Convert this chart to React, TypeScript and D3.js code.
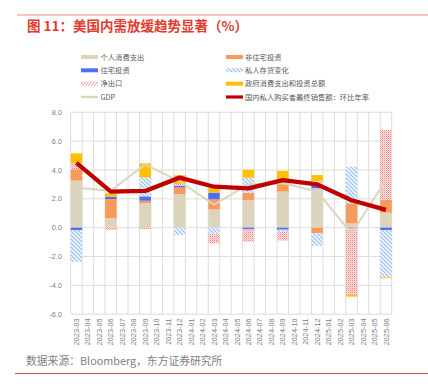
import React from "react";
import * as d3 from "d3";

const months = [
  "2023-03", "2023-04", "2023-05", "2023-06", "2023-07", "2023-08", "2023-09",
  "2023-10", "2023-11", "2023-12", "2024-01", "2024-02", "2024-03", "2024-04",
  "2024-05", "2024-06", "2024-07", "2024-08", "2024-09", "2024-10", "2024-11",
  "2024-12", "2025-01", "2025-02", "2025-03", "2025-04", "2025-05", "2025-06",
];
const quarters = [
  "2023-03", "2023-06", "2023-09", "2023-12", "2024-03",
  "2024-06", "2024-09", "2024-12", "2025-03", "2025-06",
];
const consumption = [3.26, 0.65, 1.71, 2.33, 1.27, 1.9, 2.5, 2.73, 0.3, 1.04];
const nonResInvestment = [0.79, 1.34, 0.16, 0.46, 0.7, 0.5, 0.46, -0.39, 1.39, 0.88];
const resInvestment = [-0.16, 0.16, 0.3, 0.12, 0.46, -0.12, -0.14, 0.18, -0.05, -0.16];
const inventories = [-2.2, 0.0, 1.32, -0.5, -0.46, 1.07, -0.15, -0.86, 2.54, -3.28];
const netExports = [0.41, -0.16, -0.09, 0.12, -0.62, -0.85, -0.6, 0.33, -4.61, 4.85];
const government = [0.69, 0.23, 0.97, 0.6, 0.3, 0.55, 0.97, 0.41, -0.12, -0.06];
const gdp = [2.77, 2.56, 4.39, 3.2, 1.6, 3.0, 3.1, 2.5, -0.4, 3.3];
const privateDemand = [4.5, 2.5, 2.55, 3.47, 2.84, 2.73, 3.3, 3.0, 1.9, 1.23];
const yTicks = [-6, -4, -2, 0, 2, 4, 6, 8];

const seriesKeys = ["cons", "nonres", "res", "inv", "netx", "gov"];
const seriesValues = [consumption, nonResInvestment, resInvestment, inventories, netExports, government];
const seriesFill: Record<string, string> = {
  cons: "#ddd4bc",
  nonres: "#f9995a",
  res: "#4d6ef5",
  inv: "url(#invHatch)",
  netx: "url(#netxHatch)",
  gov: "#ffc000",
};

const legendLeft = ["个人消费支出", "住宅投资", "净出口", "GDP"];
const legendRight = ["非住宅投资", "私人存货变化", "政府消费支出和投资总额", "国内私人购买者最终销售额：环比年率"];

const FONT = "'Liberation Sans', Arial, 'Noto Sans CJK SC', sans-serif";
const CJK = "'Noto Sans CJK SC', 'Liberation Sans', sans-serif";

export default function App() {
  const W = 428;
  const H = 391;
  const x = d3.scaleBand<string>().domain(months).range([70.7, 391.7]).padding(0);
  const y = d3.scaleLinear().domain([-6, 8]).range([314.2, 112.3]);
  const bw = x.bandwidth();

  const table = quarters.map((q, i) => {
    const row: Record<string, any> = { q };
    seriesKeys.forEach((k, j) => (row[k] = seriesValues[j][i]));
    return row;
  });
  const stacked = d3.stack<any>().keys(seriesKeys).offset(d3.stackOffsetDiverging)(table);

  const cx = (q: string) => (x(q) as number) + bw / 2;
  const line = d3.line<number>().x((_, i) => cx(quarters[i])).y((d) => y(d));

  const rowY = [57, 70.3, 83.7, 97];

  const swatch = (kind: string, x0: number, yc: number) => {
    const w = 17;
    switch (kind) {
      case "cons":
        return <rect x={x0} y={yc - 2} width={w} height={4} fill="#ddd4bc" />;
      case "res":
        return <rect x={x0} y={yc - 2} width={w} height={4} fill="#4d6ef5" />;
      case "netx":
        return <rect x={x0} y={yc - 2} width={w} height={4} fill="url(#netxLegend)" />;
      case "gdp":
        return <rect x={x0} y={yc - 1.2} width={w} height={2.4} fill="#ddd4bc" />;
      case "nonres":
        return <rect x={x0} y={yc - 2} width={w} height={4} fill="#f9995a" />;
      case "inv":
        return <rect x={x0} y={yc - 2} width={w} height={4} fill="url(#invHatch)" />;
      case "gov":
        return <rect x={x0} y={yc - 2} width={w} height={4} fill="#ffc000" />;
      default:
        return <rect x={x0} y={yc - 1.6} width={w} height={3.2} fill="#c00000" />;
    }
  };
  const leftKinds = ["cons", "res", "netx", "gdp"];
  const rightKinds = ["nonres", "inv", "gov", "red"];

  return (
    <svg
      width={W}
      height={H}
      style={{ position: "absolute", left: 0, top: 0, background: "#fff" }}
      fontFamily={FONT}
    >
      <defs>
        <pattern id="invHatch" width={4} height={4} patternUnits="userSpaceOnUse">
          <rect width={4} height={4} fill="#fff" />
          <path d="M-1,-1 L5,5 M-1,3 L1,5 M3,-1 L5,1" stroke="#9fc4f7" strokeWidth={1.4} />
        </pattern>
        <pattern id="netxHatch" width={2} height={2} patternUnits="userSpaceOnUse">
          <rect width={2} height={2} fill="#fde6e6" />
          <rect x={0} y={0} width={1} height={1} fill="#f28282" />
          <rect x={1} y={1} width={1} height={1} fill="#f7b8b8" />
        </pattern>
        <pattern id="netxLegend" width={3} height={4} patternUnits="userSpaceOnUse">
          <rect width={3} height={4} fill="#fff" />
          <path d="M0,4 L3,0 M-1,1 L0,0 M3,4 L4,3" stroke="#f08080" strokeWidth={1} />
        </pattern>
      </defs>

      {/* top and bottom rules */}
      <line x1={17} x2={428} y1={15} y2={15} stroke="#f08a80" strokeWidth={1} />
      <text x={27} y={31} fontFamily={CJK} fontSize={13.5} fontWeight="bold" fill="#e23b2f">
        图 11：美国内需放缓趋势显著（%）
      </text>

      {/* legend */}
      {legendLeft.map((t, i) => (
        <g key={"l" + i}>
          {swatch(leftKinds[i], 81, rowY[i])}
          <text x={100.5} y={rowY[i]} dy="0.35em" fontFamily={CJK} fontSize={7.3} fill="#595959">
            {t}
          </text>
        </g>
      ))}
      {legendRight.map((t, i) => (
        <g key={"r" + i}>
          {swatch(rightKinds[i], 226, rowY[i])}
          <text x={245} y={rowY[i]} dy="0.35em" fontFamily={CJK} fontSize={7.3} fill="#595959">
            {t}
          </text>
        </g>
      ))}

      {/* grid */}
      {yTicks.map((t) => (
        <line key={"h" + t} x1={70.7} x2={391.7} y1={y(t)} y2={y(t)} stroke="#dcdcdc" strokeWidth={1} />
      ))}
      {months.concat(["end"]).map((m, i) => {
        const xx = 70.7 + i * bw;
        return <line key={"v" + i} x1={xx} x2={xx} y1={y(8)} y2={y(-6)} stroke="#dcdcdc" strokeWidth={1} />;
      })}

      {/* y tick labels */}
      {yTicks.map((t) => (
        <text key={"yt" + t} x={62} y={y(t)} dy="0.35em" textAnchor="end" fontSize={7.3} fill="#808080">
          {t.toFixed(1)}
        </text>
      ))}

      {/* x tick labels */}
      {months.map((m) => (
        <text
          key={"xt" + m}
          transform={`translate(${(x(m) as number) + bw / 2 + 2.6},318.5) rotate(-90)`}
          textAnchor="end"
          fontSize={7.3}
          fill="#808080"
        >
          {m}
        </text>
      ))}

      {/* bars */}
      {stacked.map((s) => (
        <g key={s.key}>
          {s.map((d, i) => {
            const y0 = y(d[0]);
            const y1 = y(d[1]);
            const h = Math.abs(y0 - y1);
            if (h < 0.01) return null;
            return (
              <rect
                key={i}
                x={x(quarters[i]) as number}
                width={bw}
                y={Math.min(y0, y1)}
                height={h}
                fill={seriesFill[s.key]}
              />
            );
          })}
        </g>
      ))}

      {/* lines */}
      <path d={line(gdp) as string} fill="none" stroke="#ddd4bc" strokeWidth={2} strokeLinejoin="round" />
      <path d={line(privateDemand) as string} fill="none" stroke="#c00000" strokeWidth={4.3} strokeLinejoin="round" />

      {/* source */}
      <text x={26} y={361} dy="0.35em" fontFamily={CJK} fontSize={10.8} fill="#7f7f7f">
        数据来源：Bloomberg，东方证券研究所
      </text>
      <line x1={15} x2={428} y1={373.5} y2={373.5} stroke="#e04a3a" strokeWidth={1.2} />
    </svg>
  );
}
